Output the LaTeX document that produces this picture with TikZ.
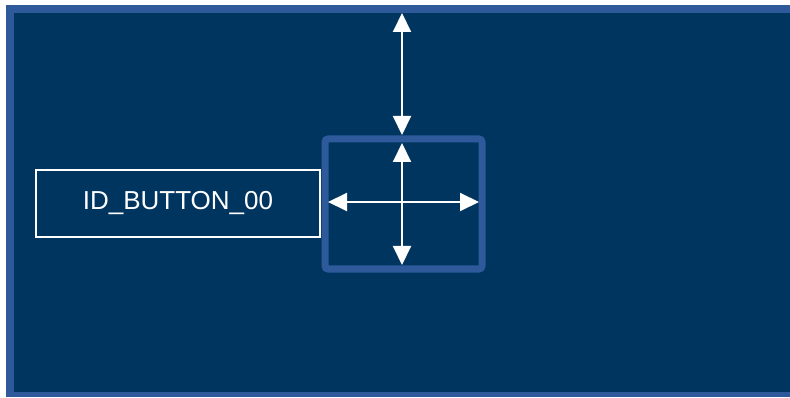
\documentclass[tikz,border=0pt]{standalone}
\usepackage{fontspec}
\setmainfont{Liberation Sans}
\usetikzlibrary{arrows.meta}
\definecolor{navy}{RGB}{0,53,96}
\definecolor{frameblue}{RGB}{46,90,155}
\begin{document}
\begin{tikzpicture}[x=1pt,y=-1pt,
  dblarrow/.style={white,line width=2pt,{Triangle[width=18pt,length=19pt]}-{Triangle[width=18pt,length=19pt]}},
  labelbox/.style={draw=white,line width=1.5pt,minimum width=284pt,minimum height=67pt,inner sep=0pt,text=white,font=\fontsize{26}{30}\selectfont},
  ctrlbox/.style={draw=frameblue,line width=7pt,rounded corners=3pt,minimum width=157pt,minimum height=130pt,inner sep=0pt}]
\useasboundingbox (0,0) rectangle (790,398);
\fill[white] (0,0) rectangle (790,398);
\fill[frameblue] (6,5) rectangle (790,397);
\fill[navy] (14,13) rectangle (790,392);
\node[labelbox] (label) at (178,203.5) {\raisebox{-2pt}{ID\_BUTTON\_00}};
\node[ctrlbox] (ctrl) at (403.5,204) {};
\coordinate (topend) at (402,13);
\coordinate (topbox) at (402,135);
\coordinate (cn) at (402,143);
\coordinate (cs) at (402,265);
\coordinate (cw) at (328,202);
\coordinate (ce) at (479,202);
\draw[dblarrow] (topend) -- (topbox);
\draw[dblarrow] (cn) -- (cs);
\draw[dblarrow] (cw) -- (ce);
\end{tikzpicture}
\end{document}
